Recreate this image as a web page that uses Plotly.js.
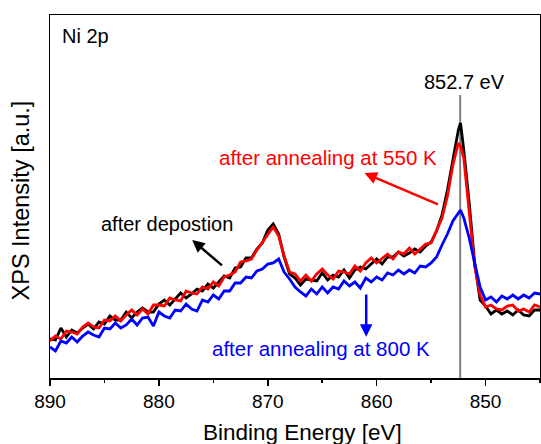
<!DOCTYPE html>
<html>
<head>
<meta charset="utf-8">
<script src="https://cdn.plot.ly/plotly-3.0.1.min.js"></script>
<style>html,body{margin:0;padding:0;background:#fff;}#chart{width:541px;height:444px;}</style>
</head>
<body>
<div id="chart"></div>
<script>
// Binding energy grid (eV)
const energy = [890,889.5,889,888.5,888,887.5,887,886.5,886,885.5,885,884.5,884,883.5,883,882.5,882,881.5,881,880.5,
880,879.5,879,878.5,878,877.5,877,876.5,876,875.5,875,874.5,874,873.5,873,872.5,872,871.5,871,870.5,
870,869.5,869,868.5,868,867.5,867,866.5,866,865.5,865,864.5,864,863.5,863,862.5,862,861.5,861,860.5,
860,859.5,859,858.5,858,857.5,857,856.5,856,855.5,855,854.5,854,853.5,853,852.5,852.3,852,851.5,851,
850.5,850,849.5,849,848.5,848,847.5,847,846.5,846,845.5,845];

// after deposition (black)
const afterDeposition = [39,38,50,41,48,45,50,54,49,56,54,62,58,58,66,60,66,70,66,66,
74,78,73,79,85,80,84,89,87,94,90,96,102,100,110,111,120,120,129,135,
148,154,144,121,104,100,93,99,98,97,105,98,103,101,108,100,108,111,109,114,
119,114,121,121,126,122,125,129,126,132,136,147,163,188,220,248,255,228,175,115,
78,72,64,68,64,67,63,68,63,62,68,68];

// after annealing at 550 K (red)
const anneal550 = [37,42,39,47,46,44,51,55,51,50,58,57,62,57,63,68,63,69,64,73,
73,72,80,78,77,87,85,84,91,89,96,92,101,103,106,116,117,119,128,136,
143,151,142,122,106,104,97,103,97,104,109,103,99,107,106,104,112,107,115,120,
115,120,124,119,126,124,130,124,129,134,135,147,160,182,213,235,232,220,169,112,
83,71,73,69,68,72,73,67,69,66,73,71];

// after annealing at 800 K (blue)
const anneal800 = [31,27,37,35,41,36,42,46,43,41,50,49,55,50,53,59,53,60,61,52,
66,62,60,68,67,74,69,67,78,76,83,79,87,87,95,95,101,100,107,109,
114,115,119,106,99,91,86,82,89,84,91,85,91,89,97,92,96,90,100,96,
101,98,105,103,108,104,108,105,112,111,115,121,133,144,157,165,168,160,140,115,
91,78,81,76,82,79,83,79,83,80,85,84];

const xTicks = [890,880,870,860,850];
const xTickLabels = ["890","880","870","860","850"];
const peakEnergy = 852.33;   // marker line position
const peakLabel = "852.7 eV";

const FONT = "Liberation Sans, Arial, sans-serif";

const traces = [
  {x: energy, y: afterDeposition, mode: "lines", line: {color: "#000000", width: 2.8}, hoverinfo: "skip"},
  {x: energy, y: anneal550, mode: "lines", line: {color: "#ff0000", width: 2.8}, hoverinfo: "skip"},
  {x: energy, y: anneal800, mode: "lines", line: {color: "#0000ff", width: 2.8}, hoverinfo: "skip"}
];

const layout = {
  width: 541, height: 444,
  margin: {l: 50, r: 1, t: 15, b: 66},
  paper_bgcolor: "#ffffff", plot_bgcolor: "#ffffff",
  showlegend: false,
  font: {family: FONT, color: "#000000", size: 19},
  xaxis: {
    range: [890, 845], tickvals: xTicks, ticktext: xTickLabels,
    ticks: "outside", ticklen: 6, tickwidth: 1.5, tickcolor: "#000",
    minor: {dtick: 5, ticks: "outside", ticklen: 3, tickwidth: 1.5, tickcolor: "#000", showgrid: false},
    showline: true, linecolor: "#000", linewidth: 1.5, mirror: true,
    showgrid: false, zeroline: false,
    tickfont: {family: FONT, size: 19, color: "#000"}
  },
  yaxis: {
    range: [0, 363], showticklabels: false, ticks: "",
    showline: true, linecolor: "#000", linewidth: 1.5, mirror: true,
    showgrid: false, zeroline: false
  },
  shapes: [
    {type: "line", xref: "x", yref: "y", x0: peakEnergy, x1: peakEnergy, y0: 0, y1: 283,
     line: {color: "#808080", width: 2}, layer: "below"}
  ],
  annotations: [
    // axis titles
    {xref: "paper", yref: "paper", x: 0.5143, y: -0.1488, text: "Binding Energy [eV]", showarrow: false,
     xanchor: "center", yanchor: "middle", font: {family: FONT, size: 22.5, color: "#000"}},
    {xref: "paper", yref: "paper", x: -0.0582, y: 0.4904, text: "XPS Intensity [a.u.]", showarrow: false,
     textangle: -90, xanchor: "center", yanchor: "middle", font: {family: FONT, size: 23.5, color: "#000"}},
    {xref: "x", yref: "y", x: 889.08, y: 342, text: "Ni 2p", showarrow: false, xanchor: "left", yanchor: "middle",
     font: {family: FONT, size: 20, color: "#000"}},
    {xref: "x", yref: "y", x: 851.94, y: 296, text: peakLabel, showarrow: false, xanchor: "center", yanchor: "middle",
     font: {family: FONT, size: 20, color: "#000"}},
    {xref: "x", yref: "y", x: 879.3, y: 154, text: "after depostion", showarrow: false, xanchor: "center", yanchor: "middle",
     font: {family: FONT, size: 20, color: "#000"}},
    {xref: "x", yref: "y", x: 864.43, y: 221, text: "after annealing at 550 K", showarrow: false, xanchor: "center", yanchor: "middle",
     font: {family: FONT, size: 20.5, color: "#ff0000"}},
    {xref: "x", yref: "y", x: 865.1, y: 30, text: "after annealing at 800 K", showarrow: false, xanchor: "center", yanchor: "middle",
     font: {family: FONT, size: 20.5, color: "#0000ff"}},
    // arrows
    {xref: "x", yref: "y", axref: "x", ayref: "y", x: 876.94, y: 138, ax: 874.07, ay: 111.3, text: "",
     showarrow: true, arrowhead: 2, arrowsize: 1, arrowwidth: 2.5, arrowcolor: "#000000", standoff: 0},
    {xref: "x", yref: "y", axref: "x", ayref: "y", x: 861.12, y: 205, ax: 854.23, ay: 173, text: "",
     showarrow: true, arrowhead: 2, arrowsize: 1, arrowwidth: 2.5, arrowcolor: "#ff0000", standoff: 0},
    {xref: "x", yref: "y", axref: "x", ayref: "y", x: 860.96, y: 41.3, ax: 860.96, ay: 85, text: "",
     showarrow: true, arrowhead: 2, arrowsize: 1, arrowwidth: 2.5, arrowcolor: "#0000ff", standoff: 0}
  ]
};

Plotly.newPlot("chart", traces, layout, {staticPlot: true, displayModeBar: false});
</script>
</body>
</html>
